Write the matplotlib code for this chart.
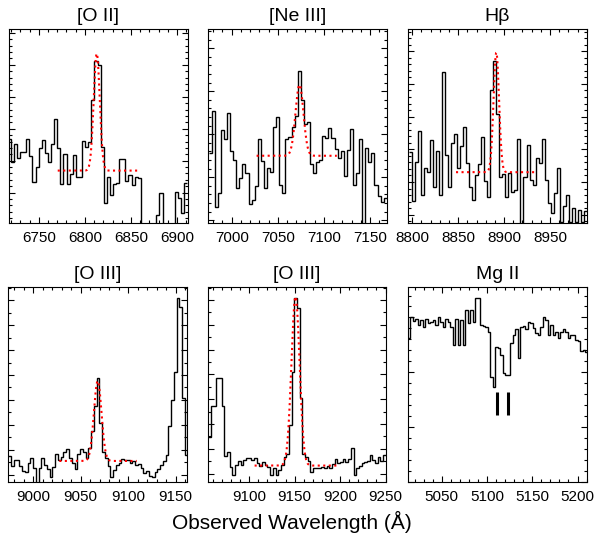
import numpy as np
import matplotlib.pyplot as plt
from matplotlib.ticker import MultipleLocator

plt.rcParams['font.family'] = ['Liberation Sans', 'DejaVu Sans']

# ---- spectra (observed wavelength grid start, bin width, flux per bin) ----
oii_start, oii_step = 6716.2, 3.36
oii_flux = [2.67, 1.97, 2.52, 2.09, 2.28, 2.28, 2.68, 2.15, 1.32, 1.79,
            2.39, 2.65, 2.23, 1.97, 2.52, 3.29, 2.39, 1.27, 2.21, 1.27,
            1.57, 2.17, 1.50, 1.50, 2.63, 2.44, 2.59, 3.90, 5.13, 5.00,
            2.44, 0.67, 1.48, 0.93, 1.27, 1.31, 2.05, 2.05, 1.38, 1.55,
            1.24, 1.48, 1.45, -0.5, -0.5, -0.5, -0.5, -0.5, 0.30, 0.98,
            -0.5, -0.5, -0.5, -0.5, 1.01, 0.82, 0.36, 1.31]

neiii_start, neiii_step = 6975.0, 3.33
neiii_flux = [1.56, 2.53, 0.32, 0.64, 2.10, 1.90, 2.50, 1.60, 1.39, 0.74,
              0.98, 1.32, 1.11, 0.39, 0.47, 0.80, 1.88, 1.38, 0.74, 1.21,
              1.13, 2.18, 2.41, 0.82, 0.64, 1.90, 1.94, 2.16, 2.43, 3.46,
              2.80, 2.25, 2.28, 1.30, 1.11, 1.35, 1.39, 1.96, 1.92, 2.14,
              1.91, 1.65, 1.44, 1.60, 1.03, 1.63, 2.12, 0.82, 1.11, 1.88,
              -0.5, 1.69, 1.36, 1.57, 0.82, 0.57, 0.43, 0.51]

hb_start, hb_step = 8796.1, 3.29
hb_flux = [1.93, 0.42, 1.60, 2.57, 0.60, 1.42, 1.30, 2.29, 0.86, 1.95,
           0.60, 4.35, 1.83, 0.84, 2.20, 2.47, 1.44, 2.10, 2.69, 1.57,
           0.86, 0.45, 1.21, 1.55, 2.37, 1.04, 0.55, 3.81, 4.71, 3.08,
           1.16, 1.25, 0.55, 1.27, 0.70, 0.74, 2.31, -0.6, 1.14, 2.13,
           1.06, 0.91, 1.72, 1.57, 2.31, 1.06, 0.37, 0.04, 0.67, 1.42,
           -0.21, 0.27, 0.60, -0.21, 0.20, -0.21, 0.15, -0.21, 0.12]

oiii1_start, oiii1_step = 8973.6, 2.91
oiii1_flux = [0.76, 0.37, 0.60, 0.60, 0.37, 0.16, 0.13, 0.47, 0.67, 0.27,
              -0.4, 0.27, 0.69, 0.40, 0.23, -0.07, 0.33, 0.83, 0.60, 0.73,
              0.93, 1.03, 0.67, 0.47, 0.23, 0.83, 1.03, 0.91, 0.67, 1.09,
              1.77, 2.76, 3.87, 2.07, 0.93, 0.67, 0.37, -0.07, 0.20, 0.40,
              0.47, 0.64, 0.60, 0.60, 0.47, 0.56, 0.40, 0.43, 0.27, 0.09,
              0.16, -0.04, -0.09, 0.11, 0.24, 0.40, 0.56, 0.80, 1.96, 3.00,
              4.13, 7.07, 6.73, 3.07, 0.80]

oiii2_start, oiii2_step = 9055.0, 2.96
oiii2_flux = [1.48, 2.73, 2.73, 3.86, 3.86, 2.73, 0.70, 0.88, 0.28, -0.06,
              0.34, 0.52, 0.34, 0.54, 0.61, 0.64, 0.54, 0.61, 0.41, 0.32,
              0.48, 0.34, 0.28, -0.06, 0.23, -0.06, 0.14, 0.34, 0.68, 0.77,
              1.95, 4.11, 7.06, 6.69, 3.03, 0.77, 0.68, 0.50, 0.07, 0.23,
              0.21, 0.21, 0.28, 0.23, 0.32, 0.21, 0.37, 0.58, 0.41, 0.48,
              0.58, 0.45, 0.58, 1.01, -0.06, 0.21, 0.32, 0.41, 0.48, 0.50,
              0.75, 0.54, 0.41, 0.68, 0.50, 0.75]

mgii_start, mgii_step = 5012.4, 2.76
mgii_flux = [2.62, 3.01, 2.93, 2.98, 2.86, 2.95, 2.83, 2.98, 2.89, 2.92,
             2.95, 2.86, 3.01, 2.92, 2.83, 2.98, 2.92, 2.83, 2.49, 2.98,
             2.49, 2.95, 2.49, 3.13, 2.89, 3.13, 2.92, 3.35, 3.35, 2.86,
             2.85, 2.83, 2.73, 1.92, 1.73, 2.46, 2.45, 2.31, 1.98, 1.95,
             1.95, 2.54, 2.68, 2.79, 2.25, 2.83, 2.85, 2.79, 2.92, 2.89,
             2.81, 2.71, 2.68, 2.83, 3.01, 2.95, 2.68, 2.86, 2.68, 2.74,
             2.62, 2.74, 2.79, 2.74, 2.62, 2.68, 2.68, 2.59, 2.57, 2.38,
             2.40, 2.37]

# Gaussian line fits: centre, sigma, amplitude, continuum, fit range
fits = [(6812.8, 3.3, 3.66, 1.69, 6770.5, 6859.0),
        (7073.5, 4.3, 1.65, 1.50, 7027.0, 7114.0),
        (8891.5, 3.0, 3.66, 1.30, 8847.6, 8934.0),
        (9067.9, 4.0, 3.20, 0.56, 9027.4, 9109.0),
        (9151.0, 4.5, 6.81, 0.32, 9106.0, 9196.0),
        None]

# Mg II doublet markers
mgii_marks = [5111.1, 5123.3]
mgii_mark_y = (1.21, 1.64)

titles = ['[O II]', '[Ne III]', 'H\u03b2', '[O III]', '[O III]', 'Mg II']
xlims = [(6717.1, 6911.8), (6974.3, 7168.4), (8795.3, 8990.3),
         (8973.6, 9162.4), (9054.4, 9250.2), (5012.4, 5210.8)]
ylims = [(0.06, 6.11), (-0.056, 4.44), (-0.245, 5.67),
         (-0.27, 7.51), (-0.33, 7.51), (0.0, 3.55)]
yminor = [0.2, 0.2, 0.2, 0.5, 0.5, 0.2]

spectra = [(oii_start, oii_step, oii_flux),
           (neiii_start, neiii_step, neiii_flux),
           (hb_start, hb_step, hb_flux),
           (oiii1_start, oiii1_step, oiii1_flux),
           (oiii2_start, oiii2_step, oiii2_flux),
           (mgii_start, mgii_step, mgii_flux)]

# axes boxes in pixels (left, right, top, bottom) of a 595x539 figure
W, H = 595.0, 539.0
boxes = [(8.5, 188.0, 29.3, 222.7), (208.0, 387.0, 29.3, 222.7), (408.0, 587.0, 29.3, 222.7),
         (8.3, 187.3, 287.3, 481.7), (207.7, 385.7, 287.3, 481.7), (407.7, 587.3, 287.3, 481.7)]

fig = plt.figure(figsize=(W / 100, H / 100), dpi=100)

for i in range(6):
    l, r, t, b = boxes[i]
    ax = fig.add_axes([l / W, 1 - b / H, (r - l) / W, (b - t) / H])
    start, step, flux = spectra[i]
    flux = np.array(flux)
    edges = start + step * np.arange(len(flux) + 1)
    ax.stairs(flux, edges, baseline=None, color='black', lw=1.0)

    if fits[i] is not None:
        c, s, a, cont, lo, hi = fits[i]
        xx = np.linspace(lo, hi, 400)
        yy = cont + a * np.exp(-0.5 * ((xx - c) / s) ** 2)
        ax.plot(xx, yy, color='red', ls=':', lw=1.5)

    if i == 5:
        ax.vlines(mgii_marks, mgii_mark_y[0], mgii_mark_y[1], color='black', lw=2.2)

    ax.set_xlim(xlims[i])
    ax.set_ylim(ylims[i])
    ax.xaxis.set_major_locator(MultipleLocator(50))
    ax.xaxis.set_minor_locator(MultipleLocator(10))
    ax.yaxis.set_major_locator(MultipleLocator(1))
    ax.yaxis.set_minor_locator(MultipleLocator(yminor[i]))
    ax.tick_params(which='both', direction='in', top=True, right=True,
                   labelleft=False, width=0.8, labelsize=11, pad=6)
    ax.tick_params(which='major', length=4)
    ax.tick_params(which='minor', length=2)
    for sp in ax.spines.values():
        sp.set_linewidth(0.8)
    ax.set_title(titles[i], fontsize=14, pad=6)

fig.text(292 / W, 1 - 522 / H, 'Observed Wavelength (\u00c5)', ha='center', va='center', fontsize=15)

fig.savefig('out.png', dpi=100)
